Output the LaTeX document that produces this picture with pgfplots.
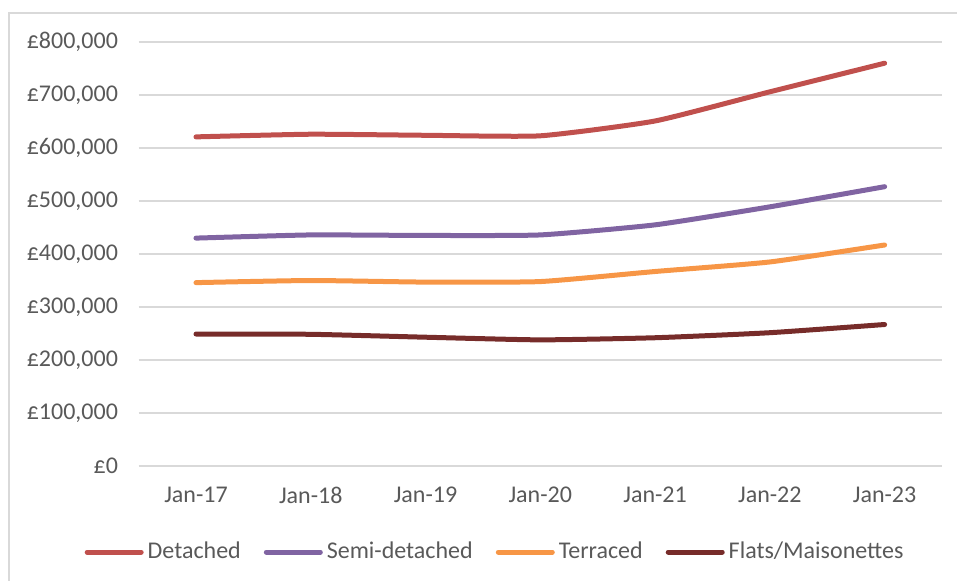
\documentclass[border=0pt]{standalone}
\usepackage{fontspec}
\setmainfont{Carlito}
\usepackage{pgfplots}
\pgfplotsset{compat=1.18}
\definecolor{cDet}{HTML}{C0504D}
\definecolor{cSemi}{HTML}{8064A2}
\definecolor{cTer}{HTML}{F79646}
\definecolor{cFlat}{HTML}{772C2A}
\definecolor{gridgray}{HTML}{D9D9D9}
\definecolor{txtgray}{HTML}{595959}

\begin{document}
\begin{tikzpicture}
\useasboundingbox (-69.3pt,-57pt) rectangle (409.2pt,233pt);
\draw[gridgray, line width=0.75pt] (-64.8pt,226.5pt) rectangle (430pt,-80pt);
\begin{axis}[
  at={(0,0)}, anchor=south west,
  scale only axis, width=401.7pt, height=212pt,
  xmin=-0.5, xmax=6.5, ymin=0, ymax=800000,
  scaled y ticks=false,
  xtick={0,1,2,3,4,5,6},
  xticklabels={Jan-17,Jan-18,Jan-19,Jan-20,Jan-21,Jan-22,Jan-23},
  ytick={0,100000,200000,300000,400000,500000,600000,700000,800000},
  yticklabels={£0,{£100,000},{£200,000},{£300,000},{£400,000},{£500,000},{£600,000},{£700,000},{£800,000}},
  axis line style={draw=none}, major tick length=0pt,
  ymajorgrids, grid style={draw=gridgray, line width=0.9pt},
  tick label style={font=\fontsize{12}{14}\selectfont, text=txtgray},
  xticklabel style={yshift=-7pt},
  yticklabel style={xshift=-6.8pt},
  legend columns=4,
  legend style={at={(0.445,-0.203)}, anchor=center, draw=none, fill=none,
    font=\fontsize{12}{14}\selectfont, text=txtgray,
    /tikz/every even column/.append style={column sep=9.5pt}},
  legend image code/.code={\draw[#1, line cap=round] (0pt,0pt) -- (27pt,0pt);},
  every axis plot/.append style={line width=2.5pt, line cap=round, smooth, tension=0.3},
]
\addplot[cDet] coordinates {(0,621000) (1,626000) (2,624000) (3,623000) (4,651000) (5,706000) (6,760000)};
\addlegendentry{Detached}
\addplot[cSemi] coordinates {(0,430000) (1,436000) (2,435000) (3,436000) (4,455000) (5,489000) (6,527000)};
\addlegendentry{Semi-detached}
\addplot[cTer] coordinates {(0,346000) (1,350000) (2,347000) (3,348000) (4,367000) (5,385000) (6,417000)};
\addlegendentry{Terraced}
\addplot[cFlat] coordinates {(0,249000) (1,248500) (2,243000) (3,238000) (4,242000) (5,251500) (6,267000)};
\addlegendentry{Flats/Maisonettes}
\end{axis}
\end{tikzpicture}
\end{document}
